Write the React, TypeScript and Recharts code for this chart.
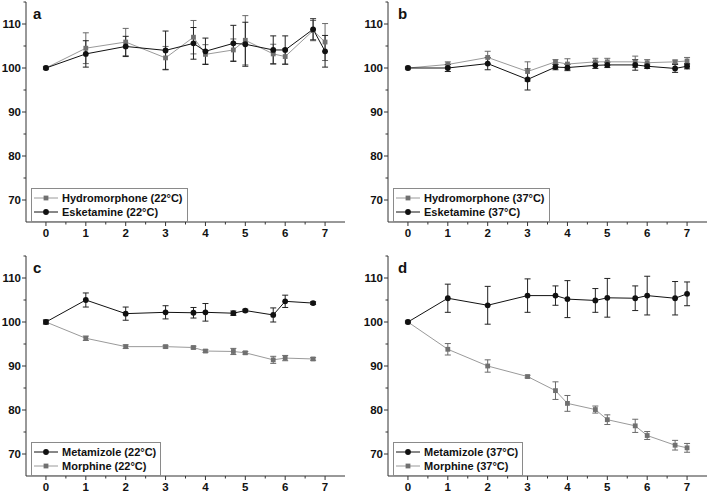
import { ErrorBar, Legend, Line, LineChart, XAxis, YAxis } from "recharts";

const FONT = '"Liberation Sans", Arial, sans-serif';
const GRAY_LINE = "#9a9a9a";
const GRAY_MARK = "#707070";
const BLACK = "#111";

// days
const X_FULL = [0, 1, 2, 3, 3.7, 4, 4.7, 5, 5.7, 6, 6.7, 7];
const X_SHORT = [0, 1, 2, 3, 3.7, 4, 4.7, 5, 5.7, 6, 6.7];

const X_TICKS = [0, 0.5, 1, 1.5, 2, 2.5, 3, 3.5, 4, 4.5, 5, 5.5, 6, 6.5, 7];
const Y_TICKS = [70, 75, 80, 85, 90, 95, 100, 105, 110, 115];
const Y_LABELS = [70, 80, 90, 100, 110];

// a
const HYDRO_22 = [100, 104.5, 105.9, 102.3, 107, 103.1, 104.1, 106.3, 103.2, 102.6, 108.5, 105.9];
const HYDRO_22_ERR = [0.3, 3.5, 3.1, 2.6, 3.8, 2.2, 2.5, 5.6, 2.2, 1.8, 2.3, 4.2];
const ESKET_22 = [100, 103.2, 104.9, 104, 105.6, 103.8, 105.6, 105.4, 104.1, 104.1, 108.8, 103.8];
const ESKET_22_ERR = [0.2, 3, 2.3, 4.4, 3.6, 3.0, 4.1, 5.0, 3.2, 3.2, 2.4, 3.6];

// b
const HYDRO_37 = [100, 100.8, 102.4, 99.2, 101.4, 100.9, 101.4, 101.4, 101.4, 101.2, 101.4, 101.6];
const HYDRO_37_ERR = [0.2, 0.6, 1.4, 2.2, 0.5, 1.2, 0.8, 0.8, 1.3, 0.7, 0.4, 0.8];
const ESKET_37 = [100, 100, 101, 97.4, 100.2, 100.1, 100.6, 100.7, 100.7, 100.4, 99.9, 100.4];
const ESKET_37_ERR = [0.2, 0.8, 1.4, 2.4, 0.6, 0.7, 0.7, 0.6, 1.2, 0.5, 0.9, 0.6];

// c
const METAM_22 = [100, 105, 101.9, 102.2, 102.1, 102.2, 102, 102.6, 101.6, 104.7, 104.3];
const METAM_22_ERR = [0.4, 1.6, 1.5, 1.5, 1.2, 2, 0.5, 0.3, 1.6, 1.4, 0.3];
const MORPH_22 = [100, 96.3, 94.4, 94.4, 94.2, 93.4, 93.3, 93, 91.4, 91.8, 91.6];
const MORPH_22_ERR = [0.5, 0.5, 0.4, 0.3, 0.3, 0.3, 0.7, 0.3, 0.8, 0.6, 0.3];

// d
const METAM_37 = [100, 105.4, 103.8, 106, 106, 105.2, 104.9, 105.5, 105.4, 106, 105.4, 106.4];
const METAM_37_ERR = [0.2, 3.2, 4.3, 3.8, 2.2, 4.2, 2.7, 4.4, 2.8, 4.4, 3.8, 2.7];
const MORPH_37 = [100, 93.8, 90, 87.6, 84.4, 81.5, 80.1, 77.8, 76.4, 74.2, 72, 71.4];
const MORPH_37_ERR = [0.2, 1.3, 1.4, 0.3, 2, 1.8, 0.8, 1.1, 1.5, 0.9, 1.1, 1];

type Series = { name: string; values: number[]; errors: number[]; kind: "square" | "circle" };

function XTick({ x, y, payload }: any) {
  const major = Number.isInteger(payload.value);
  return (
    <g>
      <line x1={x} x2={x} y1={y} y2={y + (major ? 4 : 2.5)} stroke="#333" />
      {major && (
        <text x={x} y={y + 15} textAnchor="middle" fontFamily={FONT} fontWeight="bold" fontSize={11.5} fill="#111">
          {payload.value}
        </text>
      )}
    </g>
  );
}

function YTick({ x, y, payload }: any) {
  const major = Y_LABELS.includes(payload.value);
  return (
    <g>
      <line x1={x} x2={x - (major ? 4 : 2.5)} y1={y} y2={y} stroke="#333" />
      {major && (
        <text x={x - 5} y={y + 4} textAnchor="end" fontFamily={FONT} fontWeight="bold" fontSize={11.5} fill="#111">
          {payload.value}
        </text>
      )}
    </g>
  );
}

function Marker({ kind, cx, cy }: { kind: string; cx: number; cy: number }) {
  if (kind === "square") {
    return <rect x={cx - 2.4} y={cy - 2.4} width={4.8} height={4.8} fill={GRAY_MARK} />;
  }
  return <circle cx={cx} cy={cy} r={2.9} fill={BLACK} />;
}

function LegendBox({ items }: { items: Series[] }) {
  return (
    <div
      style={{
        border: "1px solid #8a8a8a",
        background: "#fff",
        padding: "2px 4px 2px 1px",
        fontFamily: FONT,
        fontWeight: "bold",
        fontSize: 11,
        color: "#111",
        whiteSpace: "nowrap",
      }}
    >
      {items.map((s) => (
        <div key={s.name} style={{ display: "flex", alignItems: "center", height: 14 }}>
          <svg width={26} height={10} style={{ marginRight: 3 }}>
            <line x1={1} x2={25} y1={5} y2={5} stroke={s.kind === "square" ? GRAY_LINE : BLACK} strokeWidth={1} />
            <Marker kind={s.kind} cx={13} cy={5} />
          </svg>
          <span>{s.name}</span>
        </div>
      ))}
    </div>
  );
}

function Panel({
  left,
  top,
  letter,
  xs,
  series,
  legendPos,
}: {
  left: number;
  top: number;
  letter: string;
  xs: number[];
  series: Series[];
  legendPos: { left: number; top: number };
}) {
  const data = xs.map((x, i) => {
    const row: Record<string, number> = { x };
    series.forEach((s, k) => {
      row["v" + k] = s.values[i];
      row["e" + k] = s.errors[i];
    });
    return row;
  });
  // gray series first so the black one is drawn on top
  const order = series.map((s, k) => ({ s, k })).sort((a) => (a.s.kind === "square" ? -1 : 1));

  return (
    <div style={{ position: "absolute", left, top, width: 350, height: 244 }}>
      <LineChart width={350} height={244} data={data} margin={{ top: 2, right: 5, bottom: 0, left: 0 }}>
        <XAxis
          dataKey="x"
          type="number"
          domain={[-0.5, 7.5]}
          ticks={X_TICKS}
          interval={0}
          height={22}
          tickSize={0}
          tickMargin={0}
          tickLine={false}
          tick={<XTick />}
          axisLine={{ stroke: "#333" }}
          allowDataOverflow
        />
        <YAxis
          type="number"
          domain={[65, 115]}
          ticks={Y_TICKS}
          interval={0}
          width={26}
          tickSize={0}
          tickMargin={0}
          tickLine={false}
          tick={<YTick />}
          axisLine={{ stroke: "#333" }}
          allowDataOverflow
        />
        {order.map(({ s, k }) => (
          <Line
            key={s.name}
            dataKey={"v" + k}
            name={s.name}
            stroke={s.kind === "square" ? GRAY_LINE : BLACK}
            strokeWidth={1}
            isAnimationActive={false}
            activeDot={false}
            dot={(p: any) => <Marker key={p.index} kind={s.kind} cx={p.cx} cy={p.cy} />}
          >
            <ErrorBar
              dataKey={"e" + k}
              direction="y"
              width={3}
              strokeWidth={1}
              stroke={s.kind === "square" ? "#6a6a6a" : "#222"}
              isAnimationActive={false}
            />
          </Line>
        ))}
        <Legend
          layout="vertical"
          align="center"
          verticalAlign="middle"
          wrapperStyle={{ position: "absolute", left: legendPos.left, top: legendPos.top, width: "auto", height: "auto" }}
          content={() => <LegendBox items={series} />}
        />
      </LineChart>
      <span
        style={{
          position: "absolute",
          left: letter === "a" || letter === "c" ? 33 : 36,
          top: 5,
          fontFamily: FONT,
          fontWeight: "bold",
          fontSize: 15,
          color: "#111",
        }}
      >
        {letter}
      </span>
    </div>
  );
}

export default function App() {
  return (
    <div
      style={{
        position: "absolute",
        left: 0,
        top: 0,
        width: 709,
        height: 495,
        background: "#fff",
        overflow: "hidden",
      }}
    >
      <Panel
        left={0}
        top={0}
        letter="a"
        xs={X_FULL}
        legendPos={{ left: 31, top: 188 }}
        series={[
          { name: "Hydromorphone (22°C)", values: HYDRO_22, errors: HYDRO_22_ERR, kind: "square" },
          { name: "Esketamine (22°C)", values: ESKET_22, errors: ESKET_22_ERR, kind: "circle" },
        ]}
      />
      <Panel
        left={362}
        top={0}
        letter="b"
        xs={X_FULL}
        legendPos={{ left: 31, top: 188 }}
        series={[
          { name: "Hydromorphone (37°C)", values: HYDRO_37, errors: HYDRO_37_ERR, kind: "square" },
          { name: "Esketamine (37°C)", values: ESKET_37, errors: ESKET_37_ERR, kind: "circle" },
        ]}
      />
      <Panel
        left={0}
        top={253.5}
        letter="c"
        xs={X_SHORT}
        legendPos={{ left: 31, top: 188 }}
        series={[
          { name: "Metamizole (22°C)", values: METAM_22, errors: METAM_22_ERR, kind: "circle" },
          { name: "Morphine (22°C)", values: MORPH_22, errors: MORPH_22_ERR, kind: "square" },
        ]}
      />
      <Panel
        left={362}
        top={253.5}
        letter="d"
        xs={X_FULL}
        legendPos={{ left: 31, top: 188 }}
        series={[
          { name: "Metamizole (37°C)", values: METAM_37, errors: METAM_37_ERR, kind: "circle" },
          { name: "Morphine (37°C)", values: MORPH_37, errors: MORPH_37_ERR, kind: "square" },
        ]}
      />
    </div>
  );
}
